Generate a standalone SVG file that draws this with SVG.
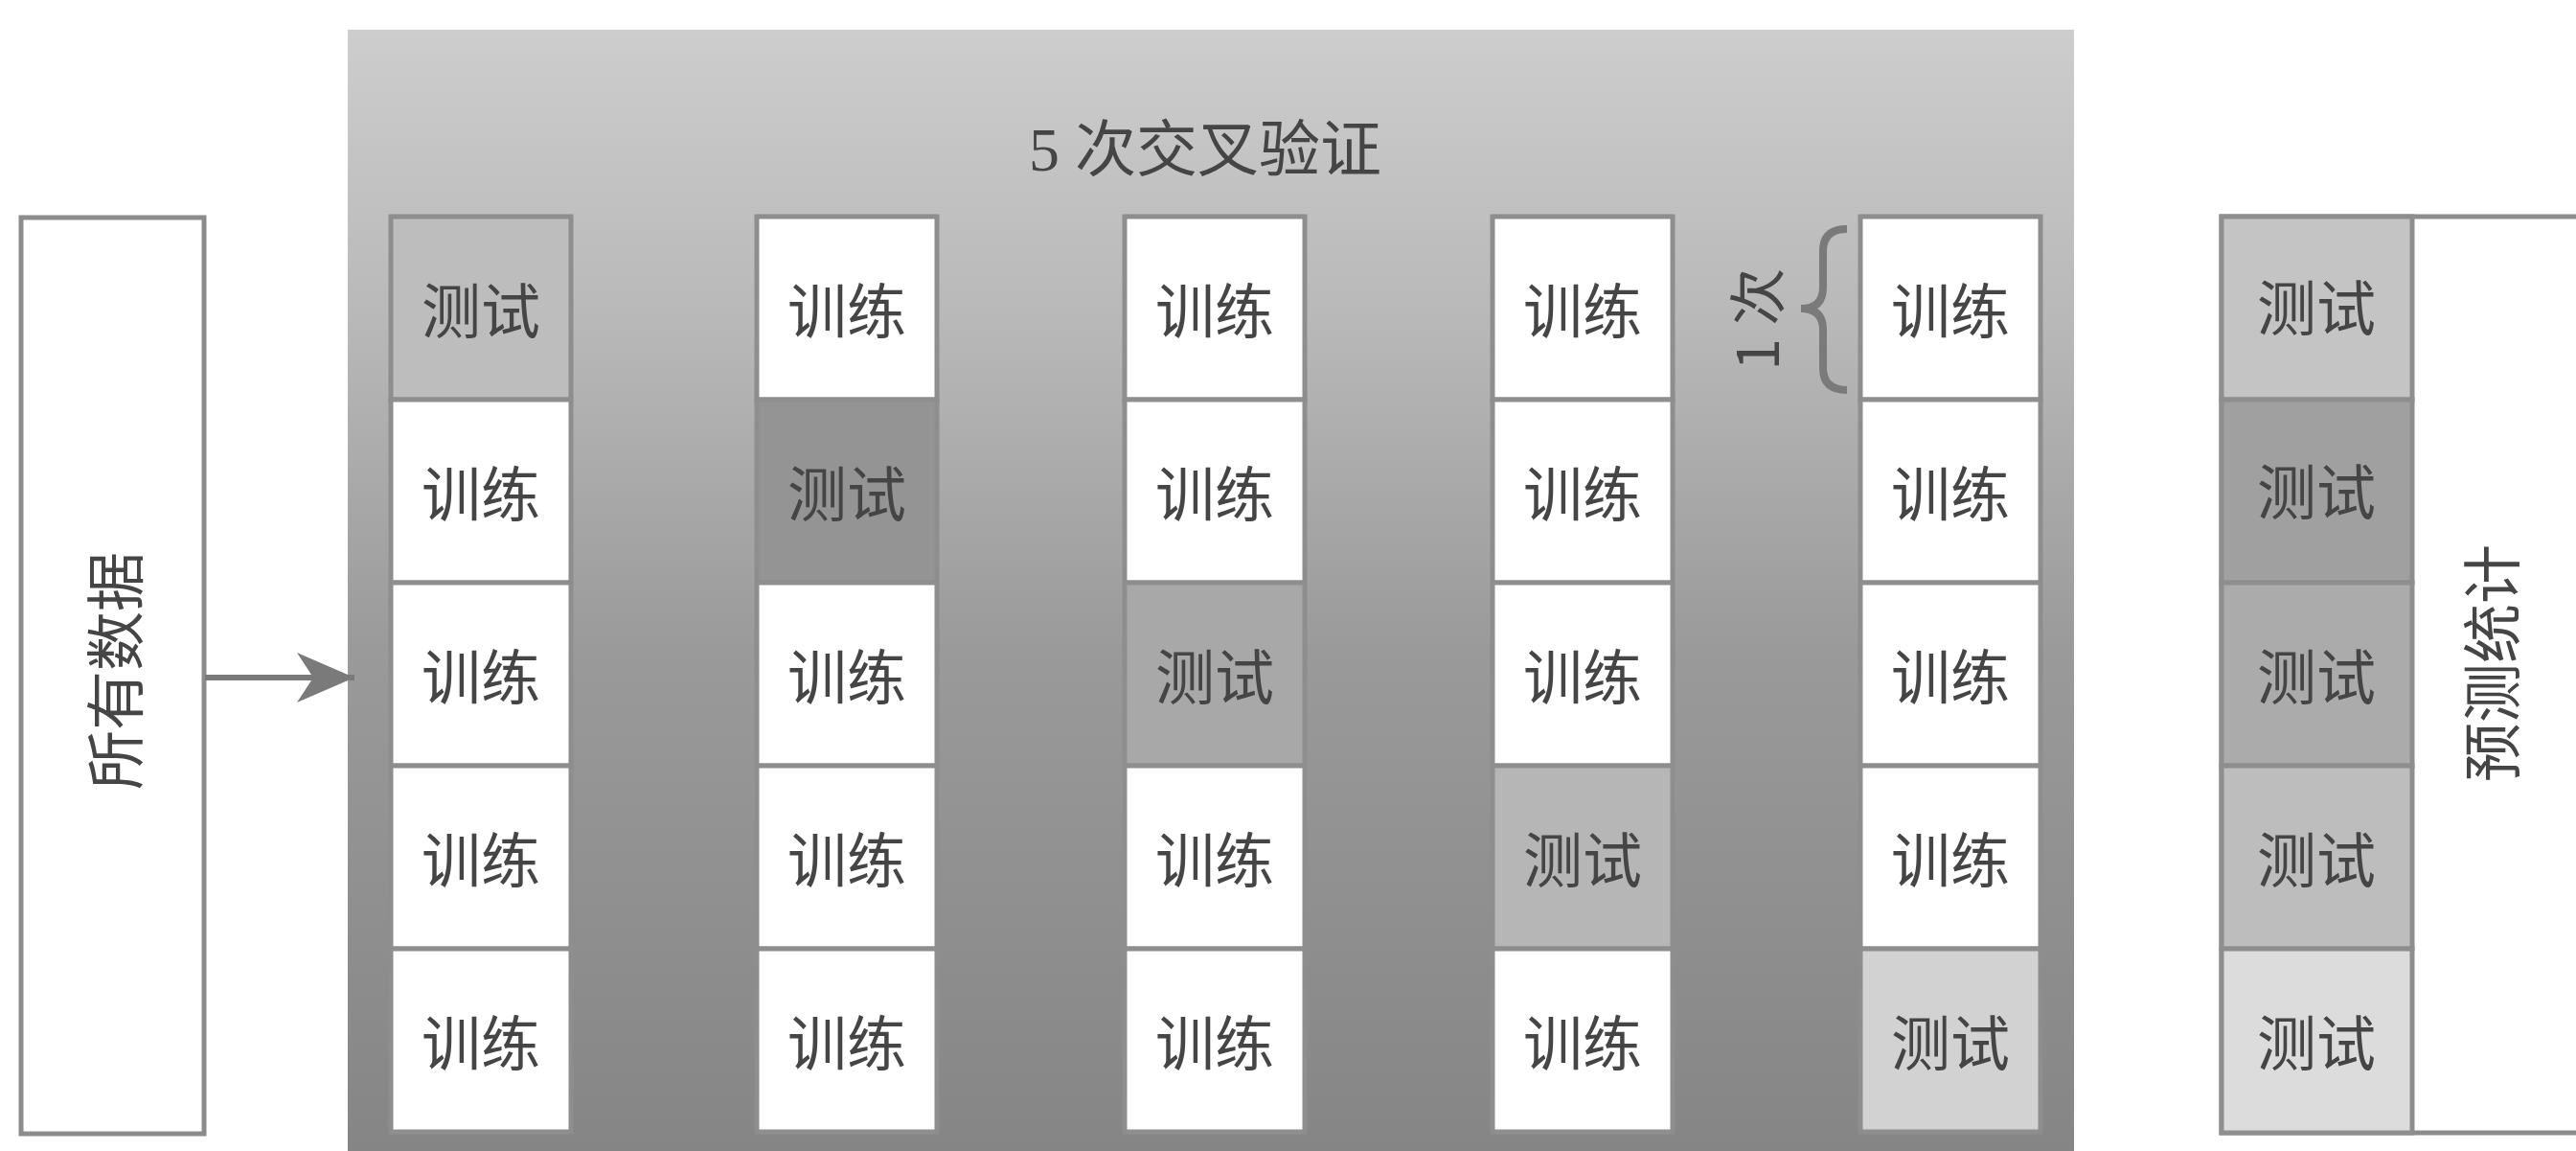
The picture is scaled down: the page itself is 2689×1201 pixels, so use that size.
<svg xmlns="http://www.w3.org/2000/svg" width="2689" height="1201" viewBox="0 0 2689 1201">
  <defs>
    <linearGradient id="panelGrad" x1="0" y1="0" x2="0" y2="1">
      <stop offset="0" stop-color="#cdcdcd"/>
      <stop offset="0.25" stop-color="#b9b9b9"/>
      <stop offset="0.55" stop-color="#9a9a9a"/>
      <stop offset="1" stop-color="#858585"/>
    </linearGradient>
    <marker id="arrow" markerUnits="userSpaceOnUse" markerWidth="64" markerHeight="56" refX="60" refY="26" orient="auto">
      <path d="M0,0 L60,26 L0,52 L17,26 Z" fill="#7a7a7a"/>
    </marker>
    <style>
      .frame { fill: #ffffff; stroke: #8c8c8c; stroke-width: 5; }
      .cell { stroke: #8e8e8e; stroke-width: 5; }
      .train { fill: #ffffff; }
      .lbl { font-family: "Noto Sans CJK SC", "Liberation Sans", sans-serif; font-size: 62px; fill: #454545; text-anchor: middle; dominant-baseline: central; }
      .title { font-family: "Liberation Serif", "Noto Sans CJK SC", serif; font-size: 64px; fill: #454545; text-anchor: middle; }
      .conn { stroke: #7a7a7a; stroke-width: 6; fill: none; }
    </style>
  </defs>

  <rect x="0" y="0" width="2689" height="1201" fill="#ffffff"/>

  <!-- all data node -->
  <g id="all-data">
    <rect class="frame" x="22" y="227" width="191" height="956"/>
    <text class="lbl" transform="translate(117,700) rotate(-90)">所有数据</text>
  </g>

  <!-- cross-validation panel -->
  <g id="cv-panel">
    <rect x="363" y="31" width="1802" height="1175" fill="url(#panelGrad)"/>
    <text class="title" x="1258" y="178">5 <tspan font-family="Noto Sans CJK SC, sans-serif">次交叉验证</tspan></text>
  </g>

  <g id="fold-1">
    <rect class="cell" x="408" y="226" width="188" height="191" fill="#bdbdbd"/>
    <rect class="cell train" x="408" y="417" width="188" height="191"/>
    <rect class="cell train" x="408" y="608" width="188" height="191"/>
    <rect class="cell train" x="408" y="799" width="188" height="191"/>
    <rect class="cell train" x="408" y="990" width="188" height="191"/>
    <text class="lbl" x="502" y="321">测试</text>
    <text class="lbl" x="502" y="512">训练</text>
    <text class="lbl" x="502" y="703">训练</text>
    <text class="lbl" x="502" y="894">训练</text>
    <text class="lbl" x="502" y="1085">训练</text>
  </g>

  <g id="fold-2">
    <rect class="cell train" x="790" y="226" width="188" height="191"/>
    <rect class="cell" x="790" y="417" width="188" height="191" fill="#949494"/>
    <rect class="cell train" x="790" y="608" width="188" height="191"/>
    <rect class="cell train" x="790" y="799" width="188" height="191"/>
    <rect class="cell train" x="790" y="990" width="188" height="191"/>
    <text class="lbl" x="884" y="321">训练</text>
    <text class="lbl" x="884" y="512">测试</text>
    <text class="lbl" x="884" y="703">训练</text>
    <text class="lbl" x="884" y="894">训练</text>
    <text class="lbl" x="884" y="1085">训练</text>
  </g>

  <g id="fold-3">
    <rect class="cell train" x="1174" y="226" width="188" height="191"/>
    <rect class="cell train" x="1174" y="417" width="188" height="191"/>
    <rect class="cell" x="1174" y="608" width="188" height="191" fill="#a8a8a8"/>
    <rect class="cell train" x="1174" y="799" width="188" height="191"/>
    <rect class="cell train" x="1174" y="990" width="188" height="191"/>
    <text class="lbl" x="1268" y="321">训练</text>
    <text class="lbl" x="1268" y="512">训练</text>
    <text class="lbl" x="1268" y="703">测试</text>
    <text class="lbl" x="1268" y="894">训练</text>
    <text class="lbl" x="1268" y="1085">训练</text>
  </g>

  <g id="fold-4">
    <rect class="cell train" x="1558" y="226" width="188" height="191"/>
    <rect class="cell train" x="1558" y="417" width="188" height="191"/>
    <rect class="cell train" x="1558" y="608" width="188" height="191"/>
    <rect class="cell" x="1558" y="799" width="188" height="191" fill="#b6b6b6"/>
    <rect class="cell train" x="1558" y="990" width="188" height="191"/>
    <text class="lbl" x="1652" y="321">训练</text>
    <text class="lbl" x="1652" y="512">训练</text>
    <text class="lbl" x="1652" y="703">训练</text>
    <text class="lbl" x="1652" y="894">测试</text>
    <text class="lbl" x="1652" y="1085">训练</text>
  </g>

  <g id="fold-5">
    <rect class="cell train" x="1942" y="226" width="188" height="191"/>
    <rect class="cell train" x="1942" y="417" width="188" height="191"/>
    <rect class="cell train" x="1942" y="608" width="188" height="191"/>
    <rect class="cell train" x="1942" y="799" width="188" height="191"/>
    <rect class="cell" x="1942" y="990" width="188" height="191" fill="#d2d2d2"/>
    <text class="lbl" x="2036" y="321">训练</text>
    <text class="lbl" x="2036" y="512">训练</text>
    <text class="lbl" x="2036" y="703">训练</text>
    <text class="lbl" x="2036" y="894">训练</text>
    <text class="lbl" x="2036" y="1085">测试</text>
  </g>

  <!-- "1 次" brace annotation -->
  <g id="one-fold-note">
    <path d="M1928,239 Q1903,239 1903,262 L1903,300 Q1903,322 1880,322 Q1903,322 1903,344 L1903,384 Q1903,407 1928,407" fill="none" stroke="#7a7a7a" stroke-width="8"/>
    <text class="lbl" transform="translate(1830,333) rotate(-90)" style="font-size:60px">1 次</text>
  </g>

  <!-- prediction statistics -->
  <g id="prediction-stats">
    <rect class="frame" x="2319" y="226" width="400" height="956"/>
    <rect class="cell" x="2319" y="226" width="199" height="191" fill="#c4c4c4"/>
    <rect class="cell" x="2319" y="417" width="199" height="191" fill="#a0a0a0"/>
    <rect class="cell" x="2319" y="608" width="199" height="191" fill="#ababab"/>
    <rect class="cell" x="2319" y="799" width="199" height="191" fill="#bdbdbd"/>
    <rect class="cell" x="2319" y="990" width="199" height="192" fill="#dcdcdc"/>
    <text class="lbl" x="2418" y="318">测试</text>
    <text class="lbl" x="2418" y="510">测试</text>
    <text class="lbl" x="2418" y="703">测试</text>
    <text class="lbl" x="2418" y="894">测试</text>
    <text class="lbl" x="2418" y="1085">测试</text>
    <text class="lbl" transform="translate(2598,692) rotate(-90)">预测统计</text>
  </g>

  <!-- connectors -->
  <g id="connectors">
    <line class="conn" x1="214" y1="707" x2="370" y2="707" marker-end="url(#arrow)"/>
  </g>
</svg>
